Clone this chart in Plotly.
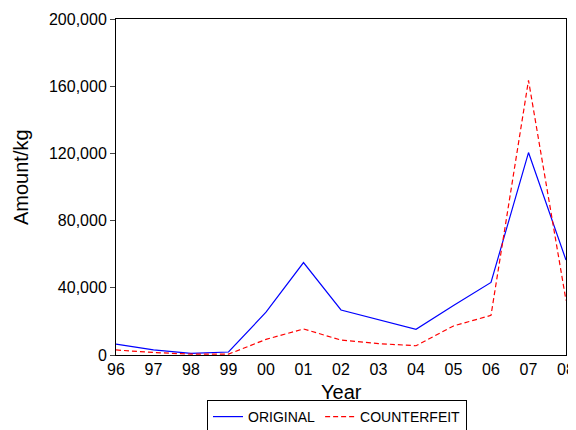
import plotly.graph_objects as go

years = ["96", "97", "98", "99", "00", "01", "02", "03", "04", "05", "06", "07", "08"]
original = [6500, 3000, 1000, 1800, 25500, 55000, 26800, 21000, 15300, 29500, 43200, 120500, 56500]
counterfeit = [3000, 1500, 500, 500, 9300, 15500, 8900, 6800, 5500, 17300, 23600, 163500, 32500]
y_ticks = [0, 40000, 80000, 120000, 160000, 200000]

xpos = list(range(len(years)))

# page has an 8px body margin; size the figure so it fits the 576x430 window
W, H = 568, 422
L, T, PW, PH = 108, 11, 450, 336


def px_x(page_x):
    return (page_x - 8 - L) / PW


def px_y(page_y):
    return 1 - (page_y - 8 - T) / PH


fig = go.Figure()
fig.add_trace(go.Scatter(x=xpos, y=original, mode="lines", name="ORIGINAL",
                         line=dict(color="#0000ff", width=1.2)))
fig.add_trace(go.Scatter(x=xpos, y=counterfeit, mode="lines", name="COUNTERFEIT",
                         line=dict(color="#ff0000", width=1.2, dash="5px,3px")))

fig.update_layout(
    width=W, height=H,
    margin=dict(l=L, r=W - L - PW, t=T, b=H - T - PH, autoexpand=False),
    paper_bgcolor="white", plot_bgcolor="white",
    font=dict(family="Liberation Sans, Arial, sans-serif", size=16, color="black"),
    showlegend=True,
    legend=dict(orientation="h", x=px_x(337), xanchor="center", xref="paper",
                y=px_y(400), yanchor="top", yref="paper",
                bordercolor="black", borderwidth=1, font=dict(size=14),
                itemwidth=30, tracegroupgap=0),
    xaxis=dict(range=[0, len(years) - 1], tickvals=xpos, ticktext=years,
               showgrid=False, zeroline=False, showline=True, linecolor="black",
               linewidth=1, mirror=True, ticks="", automargin=False),
    yaxis=dict(range=[0, 200000], tickvals=y_ticks, tickformat=",d",
               showgrid=False, zeroline=False, showline=True, linecolor="black",
               linewidth=1, mirror=True, ticks="outside", ticklen=5, automargin=False),
    annotations=[
        dict(text="Amount/kg", textangle=-90, showarrow=False,
             xref="paper", yref="paper", x=px_x(21), y=px_y(177),
             xanchor="center", yanchor="middle", font=dict(size=20)),
        dict(text="Year", showarrow=False,
             xref="paper", yref="paper", x=px_x(341), y=px_y(392),
             xanchor="center", yanchor="middle", font=dict(size=20)),
    ],
)

fig.write_html("out.html")
